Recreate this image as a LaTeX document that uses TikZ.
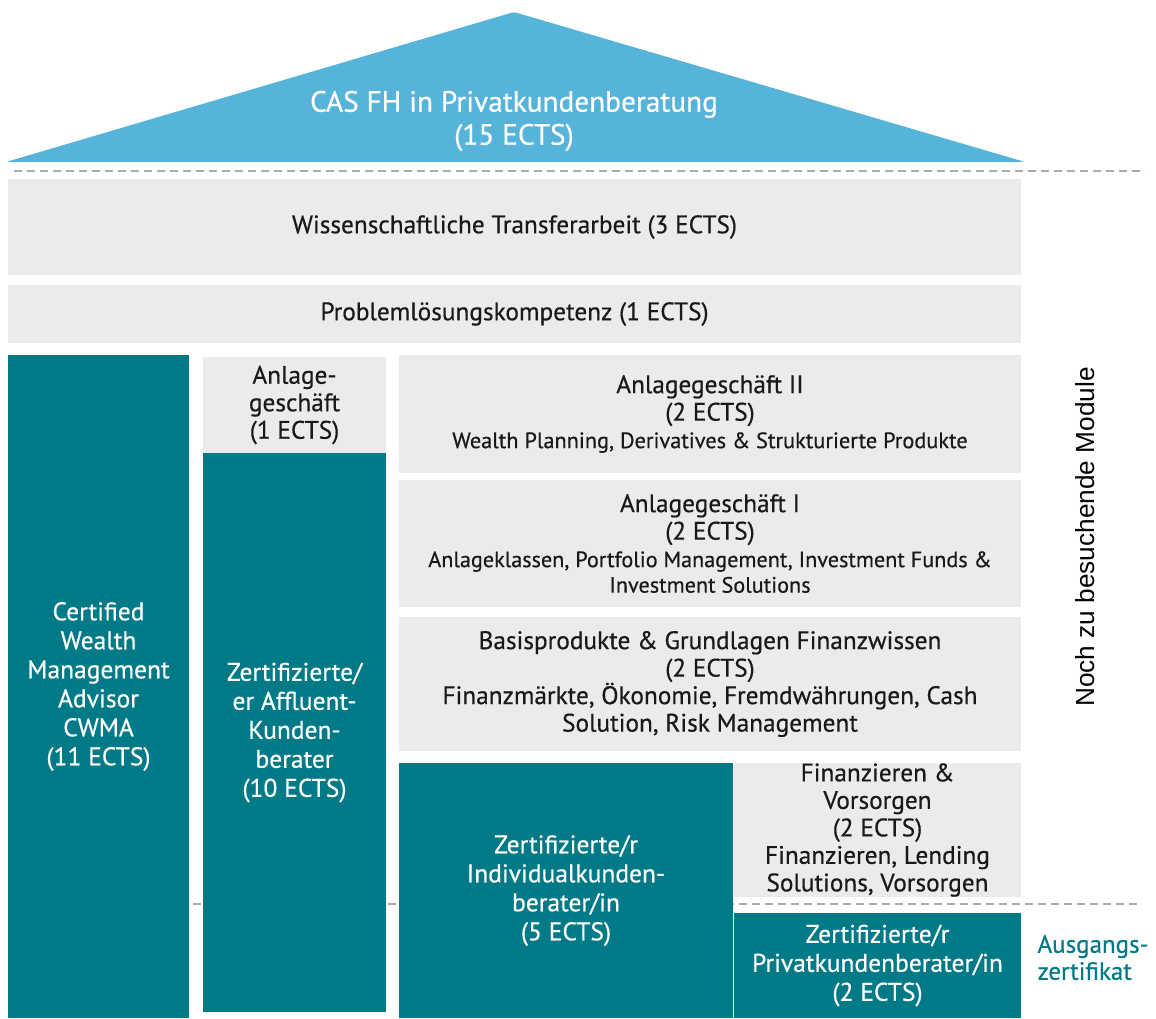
\documentclass[tikz,border=0pt]{standalone}
\usepackage{fontspec}
\setmainfont{PT Sans}[FakeBold=0.5]
\newfontfamily\hintfont{Liberation Sans}
\usetikzlibrary{positioning}
\definecolor{roofblue}{HTML}{56B4DA}
\definecolor{petrol}{HTML}{007A87}
\definecolor{modulgrey}{HTML}{EBEBEB}
\definecolor{dashgrey}{HTML}{ABABAB}

\begin{document}
\begin{tikzpicture}[x=1pt, y=-1pt,
    modul/.style={fill=modulgrey, inner sep=0pt, outer sep=0pt, align=center,
      text=black!90, font=\fontsize{25.3}{27.5}\selectfont},
    zert/.style={modul, fill=petrol, text=white, font=\fontsize{25.5}{29}\selectfont},
    trenner/.style={dashgrey, line width=1.8pt, dash pattern=on 8pt off 5pt}]
  \useasboundingbox (0,0) rectangle (1156,1018);

  % Dach
  \fill[roofblue, rounded corners=3pt] (6,162) -- (514,12) -- (1025,162) -- cycle;
  \node[text=white, align=center, font=\fontsize{29.3}{33}\selectfont] (cas) at (514,121)
    {CAS FH in Privatkundenberatung\\(15 ECTS)};

  % Trennlinien
  \draw[trenner] (14,171) -- (1145,171);
  \draw[trenner] (193,904) -- (1140,904);

  % Module
  \node[modul, minimum width=1013pt, minimum height=96pt] (transfer) at (514.5,227)
    {Wissenschaftliche Transferarbeit (3 ECTS)};
  \node[modul, minimum width=1013pt, minimum height=58pt] (problem) at (514.5,314)
    {Problemlösungskompetenz (1 ECTS)};
  \node[modul, minimum width=622pt, minimum height=118pt] (anlage2) at (710,414)
    {Anlagegeschäft II\\(2 ECTS)\\{\fontsize{22.3}{25}\selectfont Wealth Planning, Derivatives \& Strukturierte Produkte}};
  \node[modul, minimum width=622pt, minimum height=127pt] (anlage1) at (710,543.5)
    {Anlagegeschäft I\\(2 ECTS)\\{\fontsize{22.2}{25}\selectfont Anlageklassen, Portfolio Management, Investment Funds \&}\\[-2pt]
     {\fontsize{22.2}{25}\selectfont Investment Solutions}};
  \node[modul, minimum width=622pt, minimum height=134pt] (basis) at (710,684)
    {Basisprodukte \& Grundlagen Finanzwissen\\(2 ECTS)\\Finanzmärkte, Ökonomie, Fremdwährungen, Cash\\Solution, Risk Management};
  \node[modul, minimum width=287pt, minimum height=134pt] (finanz) at (877.5,830)
    {Finanzieren \&\\Vorsorgen\\(2 ECTS)\\Finanzieren, Lending\\Solutions, Vorsorgen};
  \node[modul, minimum width=183pt, minimum height=96pt] (anlage) at (294.5,405)
    {Anlage-\\geschäft\\(1 ECTS)};

  % Zertifikate
  \node[zert, minimum width=181pt, minimum height=663pt] (cwma) at (98.5,686.5)
    {Certified\\Wealth\\Management\\Advisor\\CWMA\\(11 ECTS)};
  \node[zert, minimum width=183pt, minimum height=559pt] (affluent) at (294.5,732.5)
    {Zertifizierte/\\er Affluent-\\Kunden-\\berater\\(10 ECTS)};
  \node[zert, minimum width=334pt, minimum height=255pt] (individual) at (566,890.5)
    {Zertifizierte/r\\Individualkunden-\\berater/in\\(5 ECTS)};
  \node[zert, minimum width=287pt, minimum height=105pt] (privat) at (877.5,965.5)
    {Zertifizierte/r\\Privatkundenberater/in\\(2 ECTS)};

  % Beschriftungen rechts
  \node[right=13pt of privat, anchor=west, yshift=8pt, align=left, text=petrol,
    font=\fontsize{25}{27}\selectfont] (ausgang) {Ausgangs-\\zertifikat};
  \node[rotate=90, font=\hintfont\fontsize{26.2}{30}\selectfont] (offen) at (1085,537)
    {Noch zu besuchende Module};
\end{tikzpicture}
\end{document}
